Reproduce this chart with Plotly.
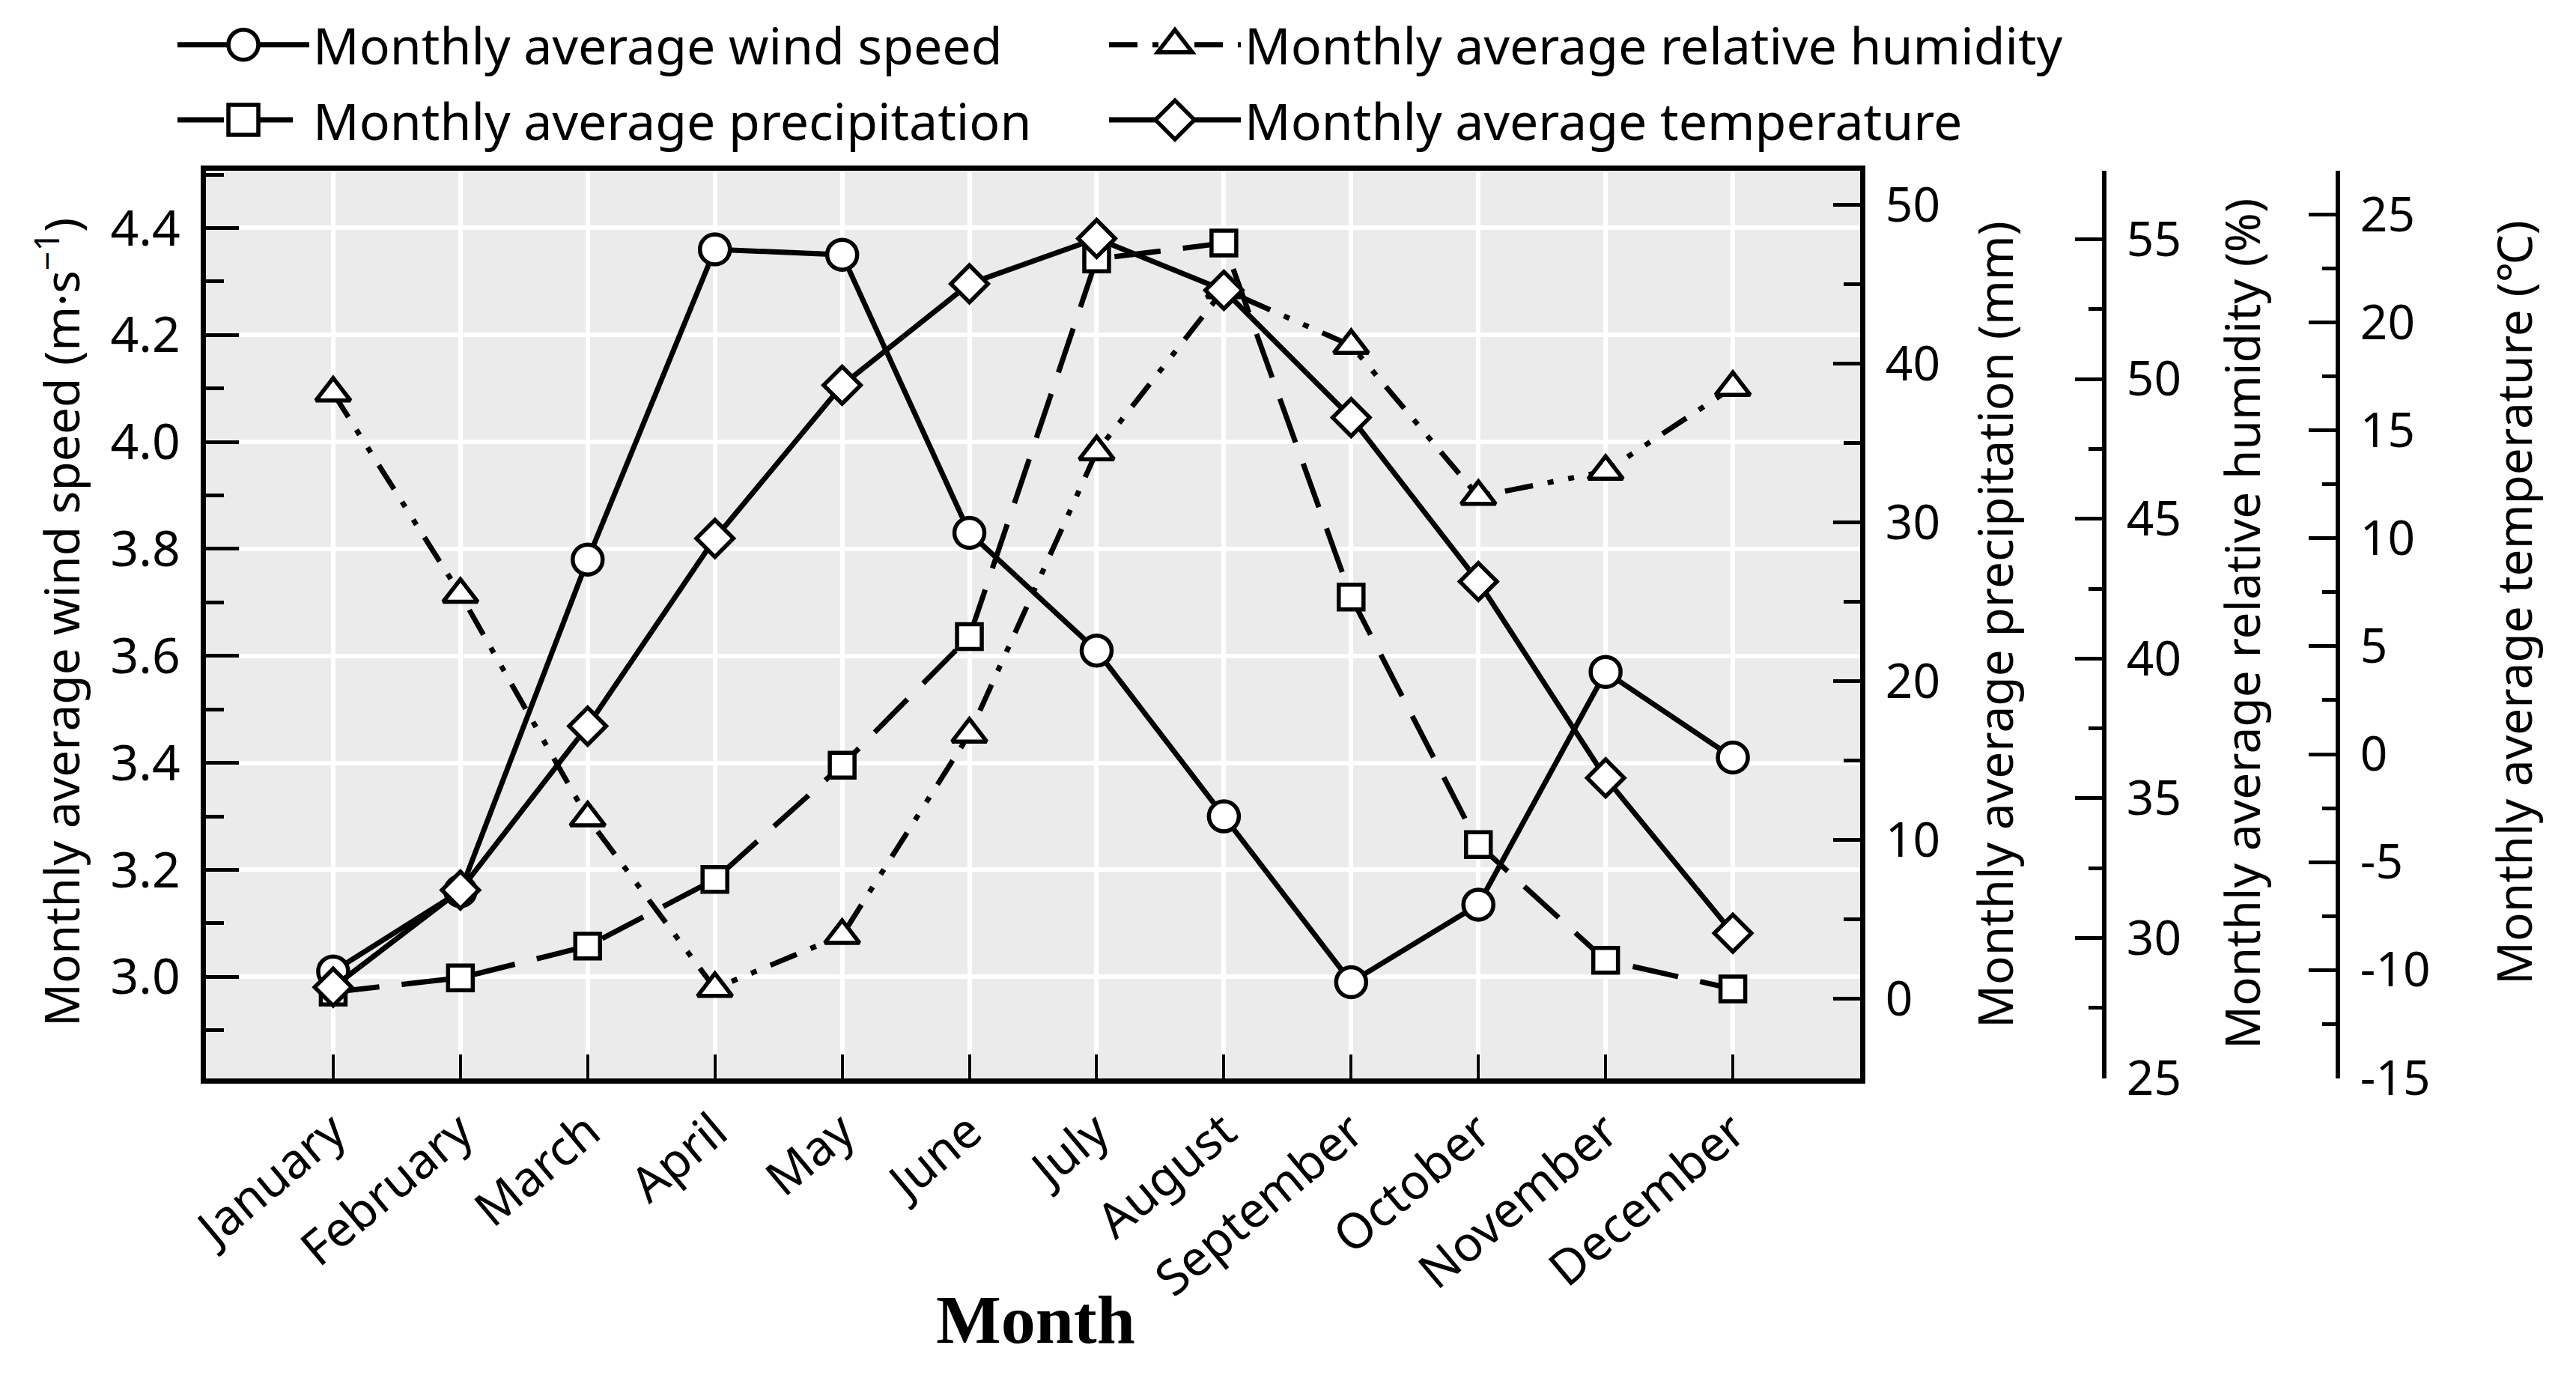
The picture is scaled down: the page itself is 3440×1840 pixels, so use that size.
import plotly.graph_objects as go

months = ["January", "February", "March", "April", "May", "June", "July",
          "August", "September", "October", "November", "December"]
wind_speed = [3.01, 3.16, 3.78, 4.36, 4.35, 3.83, 3.61, 3.30, 2.99, 3.135, 3.57, 3.41]
precipitation = [0.4, 1.3, 3.3, 7.5, 14.7, 22.8, 46.6, 47.6, 25.3, 9.7, 2.4, 0.6]
humidity = [49.5, 42.3, 34.3, 28.2, 30.1, 37.3, 47.4, 53.2, 51.2, 45.8, 46.7, 49.7]
temperature = [-10.8, -6.3, 1.3, 10.0, 17.1, 21.8, 23.9, 21.5, 15.6, 8.0, -1.1, -8.3]

temp_tickvals = [-15, -10, -5, 0, 5, 10, 15, 20, 25]
temp_ticktext = ["-15", "-10", "-5", "0", "5", "10", "15", "20", "25"]

FONT = "Noto Sans"
W, H = 3440, 1840
ML, MR = 267, 40
PLOT_R = 2476
PLOT_T, PLOT_B = 220, 1432
MT, MB = PLOT_T, H - PLOT_B
PW = W - ML - MR
PH = H - MT - MB
XDOM = (PLOT_R - ML) / PW
POS_HUM = (2802 - ML) / PW
POS_TMP = (3114 - ML) / PW

LW = 7


def mk(size):
    return dict(size=size, color="white", line=dict(color="black", width=5.5))


fig = go.Figure()
fig.add_trace(go.Scatter(
    x=months, y=wind_speed, name="Monthly average wind speed", yaxis="y",
    mode="lines+markers", line=dict(color="black", width=LW),
    marker=dict(symbol="circle", **mk(40)), legend="legend", legendgroup="a"))
fig.add_trace(go.Scatter(
    x=months, y=precipitation, name="Monthly average precipitation", yaxis="y2",
    mode="lines+markers", line=dict(color="black", width=LW, dash="62px,30px"),
    marker=dict(symbol="square", **mk(33)), legend="legend", legendgroup="b"))
fig.add_trace(go.Scatter(
    x=months, y=humidity, name="Monthly average relative humidity", yaxis="y3",
    mode="lines+markers",
    line=dict(color="black", width=LW, dash="38px,20px,8px,20px,8px,20px"),
    marker=dict(symbol="triangle-up", **mk(40)), legend="legend2", legendgroup="c"))
fig.add_trace(go.Scatter(
    x=months, y=temperature, name="Monthly average temperature", yaxis="y4",
    mode="lines+markers", line=dict(color="black", width=LW),
    marker=dict(symbol="diamond", **mk(38)), legend="legend2", legendgroup="d"))

tickfont = dict(family=FONT, size=64, color="black")

fig.update_layout(
    width=W, height=H,
    margin=dict(l=ML, r=MR, t=MT, b=MB, autoexpand=False),
    paper_bgcolor="white", plot_bgcolor="#ebebeb",
    font=dict(family=FONT, color="black"),
    xaxis=dict(
        domain=[0, XDOM], type="category", range=[-1, 12],
        showgrid=True, gridcolor="white", gridwidth=6,
        showline=True, linecolor="black", linewidth=7, mirror=True,
        ticks="inside", ticklen=32, tickwidth=4, tickcolor="black",
        tickangle=-40, tickfont=dict(family=FONT, size=65, color="black"),
        automargin=False, zeroline=False,
    ),
    yaxis=dict(
        range=[2.81, 4.507], dtick=0.2, tick0=3.0, tickformat=".1f",
        showgrid=True, gridcolor="white", gridwidth=6,
        showline=True, linecolor="black", linewidth=7,
        ticks="inside", ticklen=44, tickwidth=5, tickcolor="black",
        minor=dict(dtick=0.1, ticks="inside", ticklen=24, tickwidth=5,
                   tickcolor="black", showgrid=False),
        tickfont=dict(family=FONT, size=66, color="black"),
        ticklabelstandoff=14, automargin=False, zeroline=False,
    ),
    yaxis2=dict(
        overlaying="y", anchor="x", side="right",
        range=[-5.04, 52.16], dtick=10, tick0=0,
        showgrid=False, showline=True, linecolor="black", linewidth=7,
        ticks="inside", ticklen=36, tickwidth=5, tickcolor="black",
        minor=dict(dtick=5, ticks="inside", ticklen=22, tickwidth=5,
                   tickcolor="black", showgrid=False),
        tickfont=tickfont, ticklabelstandoff=14, automargin=False, zeroline=False,
    ),
    yaxis3=dict(
        overlaying="y", anchor="free", position=POS_HUM, side="right",
        range=[24.98, 57.45], dtick=5, tick0=0,
        showgrid=False, showline=True, linecolor="black", linewidth=6,
        ticks="inside", ticklen=36, tickwidth=5, tickcolor="black",
        minor=dict(dtick=2.5, ticks="inside", ticklen=18, tickwidth=5,
                   tickcolor="black", showgrid=False),
        tickfont=tickfont, ticklabelstandoff=14, automargin=False, zeroline=False,
    ),
    yaxis4=dict(
        overlaying="y", anchor="free", position=POS_TMP, side="right",
        range=[-15.03, 27.04], tickvals=temp_tickvals, ticktext=temp_ticktext,
        showgrid=False, showline=True, linecolor="black", linewidth=6,
        ticks="inside", ticklen=36, tickwidth=5, tickcolor="black",
        minor=dict(dtick=2.5, tick0=0, ticks="inside", ticklen=18, tickwidth=5,
                   tickcolor="black", showgrid=False),
        tickfont=tickfont, ticklabelstandoff=14, automargin=False, zeroline=False,
    ),
    legend=dict(
        xref="container", yref="container", x=224 / W, y=1 - 1 / H,
        xanchor="left", yanchor="top", bgcolor="rgba(0,0,0,0)",
        font=dict(family=FONT, size=68, color="black"), itemwidth=176,
        tracegroupgap=9,
    ),
    legend2=dict(
        xref="container", yref="container", x=1468 / W, y=1 - 1 / H,
        xanchor="left", yanchor="top", bgcolor="rgba(0,0,0,0)",
        font=dict(family=FONT, size=68, color="black"), itemwidth=176,
        tracegroupgap=9,
    ),
    showlegend=True,
)

ann_font = dict(family=FONT, size=64, color="black")


def ann(text, xpx, ypx, **kw):
    fig.add_annotation(text=text, xref="paper", yref="paper",
                       x=(xpx - ML) / PW, y=(PLOT_B - ypx) / PH,
                       showarrow=False, xanchor="center", yanchor="middle", **kw)


ann("Monthly average wind speed (m·s<sup>−1</sup>)", 70, 823, textangle=-90, font=ann_font)
ann("Monthly average precipitation (mm)", 2655, 826, textangle=-90, font=ann_font)
ann("Monthly average relative humidity (%)", 2985, 825, textangle=-90, font=ann_font)
ann("Monthly average temperature (℃)", 3348, 797, textangle=-90, font=ann_font)
ann("<b>Month</b>", 1375, 1754, font=dict(family="Liberation Serif", size=92, color="black"))

# Plotly caps legend marker size at 16px; enlarge the legend glyphs to match the
# in-plot markers (pure styling of the library's own legend symbols).
post = """
(function(){
  var gd = document.getElementsByClassName('plotly-graph-div')[0];
  function grow(){
    gd.querySelectorAll('.infolayer .legendpoints path.scatterpts, .infolayer .legendsymbols path.scatterpts').forEach(function(p){
      if (p.getAttribute('data-grown')) return;
      var t = p.getAttribute('transform') || '';
      p.setAttribute('transform', t + ' scale(2.5)');
      p.style.strokeWidth = '2.2px';
      p.setAttribute('data-grown', '1');
    });
  }
  grow();
  if (gd.on) gd.on('plotly_afterplot', grow);
})();
"""

fig.write_html("out.html", post_script=post)
